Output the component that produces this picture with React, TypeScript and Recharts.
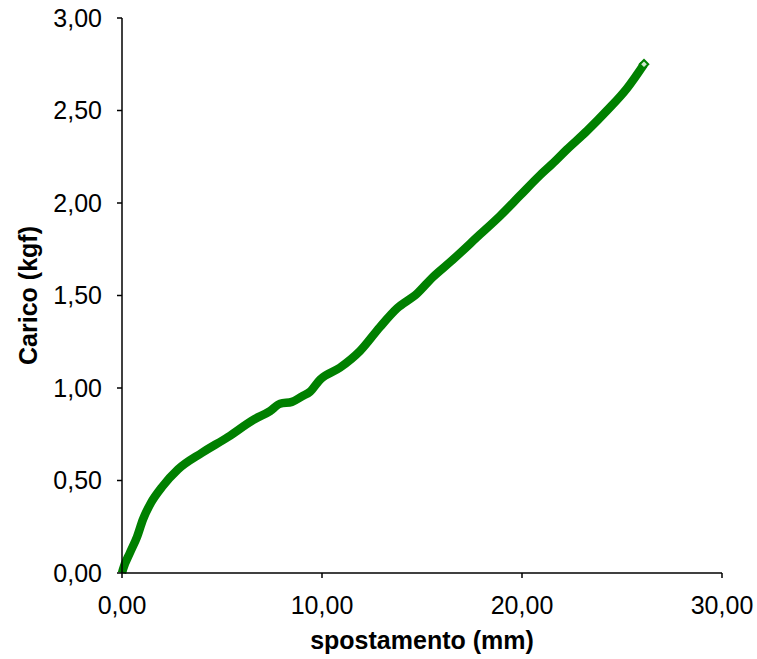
import { Label, Line, LineChart, XAxis, YAxis } from "recharts";

const spostamento = [
  0, 0.05, 0.4, 0.75, 1.05, 1.45, 2.0, 2.8, 4.0, 5.3, 6.6, 7.4, 7.9, 8.5, 9.0,
  9.4, 9.9, 10.9, 11.9, 12.9, 13.75, 14.75, 15.55, 16.4, 17.9, 18.9, 19.9,
  20.9, 21.5, 22.25, 23.25, 24.25, 25.25, 26.1,
];
const carico = [
  0, 0.02, 0.11, 0.195, 0.29, 0.38, 0.465, 0.56, 0.65, 0.735, 0.83, 0.875,
  0.915, 0.925, 0.955, 0.98, 1.045, 1.11, 1.2, 1.33, 1.43, 1.51, 1.6, 1.68,
  1.83, 1.93, 2.04, 2.15, 2.21, 2.29, 2.39, 2.5, 2.62, 2.75,
];
const xTicks = [0, 10, 20, 30];
const yTicks = [0, 0.5, 1, 1.5, 2, 2.5, 3];

const data = spostamento.map((x, i) => ({ x, y: carico[i] }));

const font = "Arial, 'Liberation Sans', sans-serif";
const fmt = (v: number) => v.toFixed(2).replace(".", ",");

function EndDot(props: any) {
  const { cx, cy, index } = props;
  if (index !== data.length - 1) return <g key={`d${index}`} />;
  return (
    <rect
      key={`d${index}`}
      x={cx - 3}
      y={cy - 3}
      width={6}
      height={6}
      fill="#cfe8cf"
      stroke="#008000"
      strokeWidth={2}
      transform={`rotate(45 ${cx} ${cy})`}
    />
  );
}

export default function App() {
  return (
    <div style={{ position: "absolute", left: 0, top: 0, background: "#fff" }}>
      <LineChart
        width={757}
        height={659}
        data={data}
        margin={{ top: 18, right: 35, left: 0, bottom: 0 }}
      >
        <XAxis
          dataKey="x"
          type="number"
          domain={[0, 30]}
          ticks={xTicks}
          tickFormatter={fmt}
          height={86}
          tickSize={5}
          tickMargin={18}
          axisLine={{ stroke: "#000", strokeWidth: 1.5 }}
          tickLine={{ stroke: "#000", strokeWidth: 1.5 }}
          tick={{ fill: "#000", fontSize: 25, fontFamily: font }}
        >
          <Label
            value="spostamento (mm)"
            position="insideBottom"
            offset={10}
            style={{
              fill: "#000",
              fontSize: 25,
              fontWeight: "bold",
              fontFamily: font,
            }}
          />
        </XAxis>
        <YAxis
          type="number"
          domain={[0, 3]}
          ticks={yTicks}
          tickFormatter={fmt}
          width={122}
          tickSize={5}
          tickMargin={15}
          axisLine={{ stroke: "#000", strokeWidth: 1.5 }}
          tickLine={{ stroke: "#000", strokeWidth: 1.5 }}
          tick={{ fill: "#000", fontSize: 25, fontFamily: font }}
        >
          <Label
            value="Carico (kgf)"
            angle={-90}
            position="insideLeft"
            offset={28}
            style={{
              fill: "#000",
              fontSize: 25,
              fontWeight: "bold",
              fontFamily: font,
              textAnchor: "middle",
            }}
          />
        </YAxis>
        <Line
          type="monotone"
          dataKey="y"
          stroke="#008000"
          strokeWidth={8.5}
          strokeLinejoin="round"
          dot={EndDot}
          activeDot={false}
          isAnimationActive={false}
        />
      </LineChart>
    </div>
  );
}
